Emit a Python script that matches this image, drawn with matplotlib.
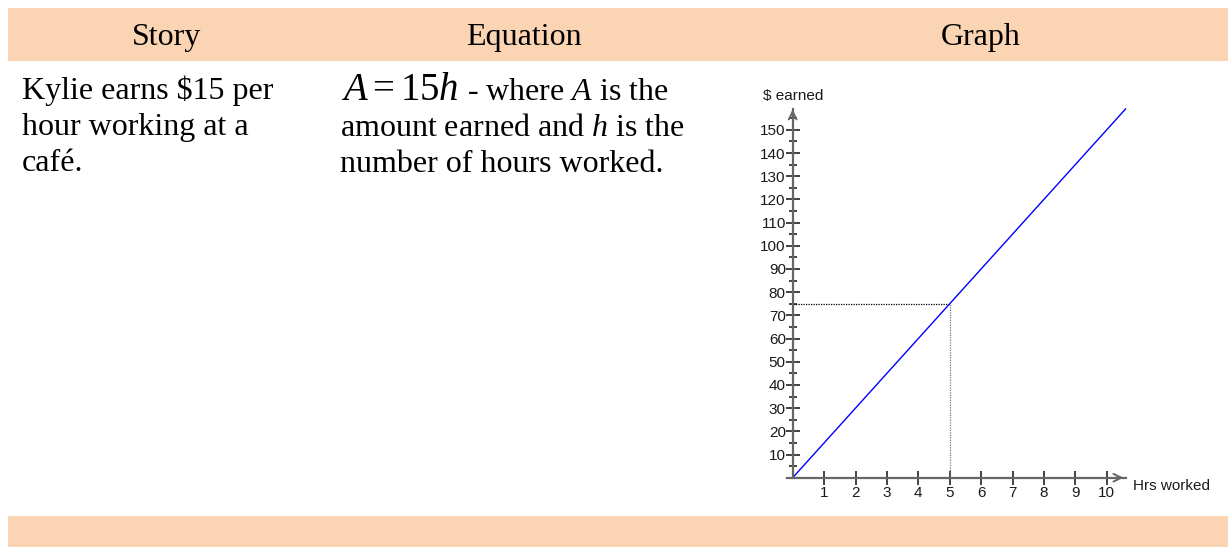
import numpy as np
import matplotlib
matplotlib.use("Agg")
import matplotlib.pyplot as plt
from matplotlib.patches import Rectangle

plt.rcParams['mathtext.fontset'] = 'custom'
plt.rcParams['mathtext.rm'] = 'Liberation Serif'
plt.rcParams['mathtext.it'] = 'Liberation Serif:italic'

#======data=======
headers = ["Story", "Equation", "Graph"]
story_lines = ["Kylie earns $15 per", "hour working at a", "café."]
eq_lines = [r"- where $A$ is the", r"amount earned and $h$ is the", "number of hours worked."]
hours = [0, 5, 10.6]
earned = [0, 75, 159]
x_ticks = [1, 2, 3, 4, 5, 6, 7, 8, 9, 10]
y_ticks = [10, 20, 30, 40, 50, 60, 70, 80, 90, 100, 110, 120, 130, 140, 150]
y_minor = [5, 15, 25, 35, 45, 55, 65, 75, 85, 95, 105, 115, 125, 135, 145, 155]
mark_h = 5
mark_a = 75

W, H = 1228, 547
peach = "#FBD4B4"
serif = "Liberation Serif"
sans = "Liberation Sans"
fs = 23

fig = plt.figure(figsize=(W/100, H/100), dpi=100)

#======page (pixel coordinates)=======
bg = fig.add_axes([0, 0, 1, 1])
bg.set_xlim(0, W)
bg.set_ylim(H, 0)
bg.axis('off')
bg.add_patch(Rectangle((8, 8), W-8, 53, color=peach, lw=0))
bg.add_patch(Rectangle((8, 516), W-8, 40, color=peach, lw=0))

for label, cx in zip(headers, [167, 524, 981]):
    bg.text(cx, 45, label, ha='center', va='baseline', fontsize=fs, family=serif)

for i, s in enumerate(story_lines):
    bg.text(22, 99 + i*36, s, ha='left', va='baseline', fontsize=fs, family=serif)

bg.text(341, 100, r"$A=15h$", ha='left', va='baseline', fontsize=28, family=serif)
bg.text(467, 100, eq_lines[0], ha='left', va='baseline', fontsize=fs, family=serif)
bg.text(340, 136, eq_lines[1], ha='left', va='baseline', fontsize=fs, family=serif)
bg.text(340, 172, eq_lines[2], ha='left', va='baseline', fontsize=fs, family=serif)

#======graph=======
ox, oy = 792.7, 477.7      # origin in pixels
sx, sy = 31.4, 2.319       # pixels per unit
px0, px1, py0, py1 = 760, 1228, 95, 515
ax = fig.add_axes([px0/W, (H-py1)/H, (px1-px0)/W, (py1-py0)/H])
ax.set_xlim((px0-ox)/sx, (px1-ox)/sx)
ax.set_ylim((oy-py1)/sy, (oy-py0)/sy)
ax.patch.set_alpha(0)

axcol = "#666666"
tkcol = "#222222"
for side in ['top', 'right']:
    ax.spines[side].set_visible(False)
ax.spines['left'].set_position(('data', 0))
ax.spines['bottom'].set_position(('data', 0))
ax.spines['left'].set_bounds(0, 159)
ax.spines['bottom'].set_bounds(-0.18, 10.6)
for side in ['left', 'bottom']:
    ax.spines[side].set_color(axcol)
    ax.spines[side].set_linewidth(1.6)

ax.set_xticks(x_ticks)
ax.set_yticks(y_ticks)
ax.set_yticks(y_minor, minor=True)
ax.tick_params(axis='x', direction='inout', length=10, width=1.2, color=tkcol,
               labelsize=11, pad=1, labelcolor="#1a1a1a")
ax.tick_params(axis='y', which='major', direction='inout', length=10, width=1.2,
               color=tkcol, labelsize=11, pad=0, labelcolor="#1a1a1a")
ax.tick_params(axis='y', which='minor', direction='inout', length=6, width=1.2,
               color=tkcol)
for t in ax.get_xticklabels() + ax.get_yticklabels():
    t.set_family(sans)

# arrow heads
ax.annotate("", xy=(10.62, 0), xytext=(10.2, 0),
            arrowprops=dict(arrowstyle='->', color=axcol, lw=1.4, mutation_scale=14))
ax.annotate("", xy=(0, 160), xytext=(0, 154),
            arrowprops=dict(arrowstyle='->', color=axcol, lw=1.4, mutation_scale=14))

ax.text(-0.95, 163, "$ earned", fontsize=11, family=sans, color="#1a1a1a",
        ha='left', va='baseline')
ax.text(10.83, -5.5, "Hrs worked", fontsize=11, family=sans, color="#1a1a1a",
        ha='left', va='baseline')

# guide lines
ax.plot([0, mark_h], [mark_a, mark_a], color='black', lw=0.9, ls=(0, (1, 1)))
ax.plot([mark_h, mark_h], [0, mark_a], color='#777777', lw=0.9, ls=(0, (1, 1)))

ax.plot(hours, earned, color='#0000ff', lw=1.0)

fig.savefig("out.png", dpi=100)
